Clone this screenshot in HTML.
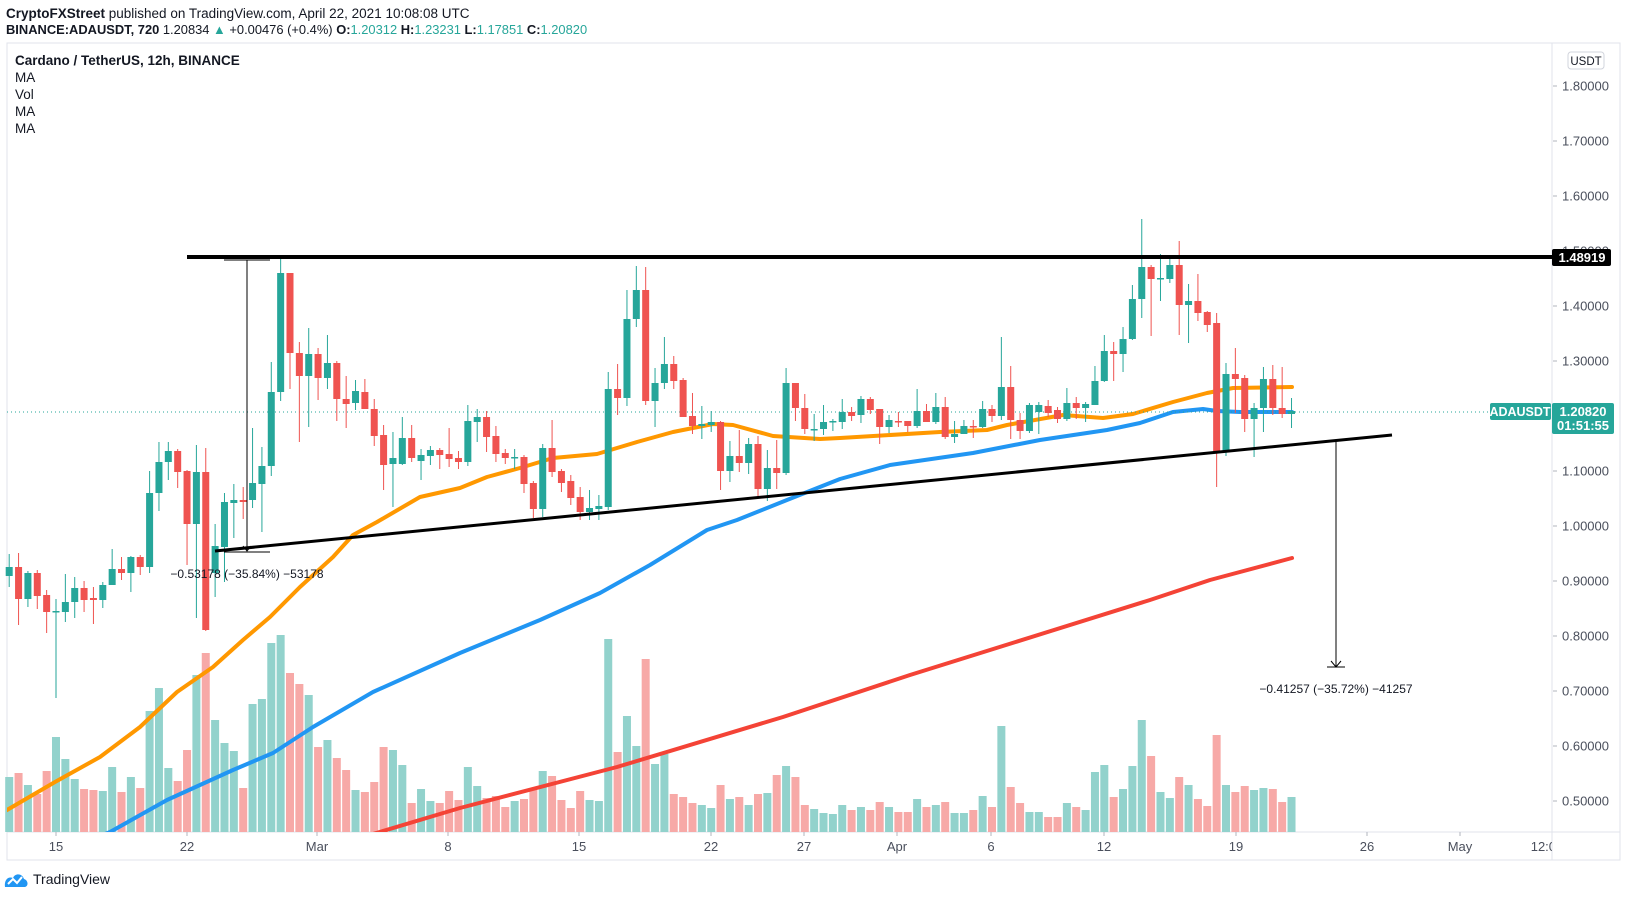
<!DOCTYPE html>
<html><head><meta charset="utf-8"><style>
html,body{margin:0;padding:0;background:#fff;}
body{width:1627px;height:897px;overflow:hidden;font-family:"Liberation Sans",sans-serif;}
svg text{font-family:"Liberation Sans",sans-serif;}
</style></head><body>
<svg id="s" width="1627" height="897" xmlns="http://www.w3.org/2000/svg">
<rect width="1627" height="897" fill="#fff"/>
<text x="6" y="18" font-size="13.5" fill="#131722"><tspan font-weight="bold">CryptoFXStreet</tspan> published on TradingView.com, April 22, 2021 10:08:08 UTC</text>
<text x="6" y="34" font-size="12.9" fill="#131722"><tspan font-weight="bold">BINANCE:ADAUSDT, 720</tspan> 1.20834 <tspan fill="#26a69a">▲</tspan> +0.00476 (+0.4%) <tspan font-weight="bold">O:</tspan><tspan fill="#26a69a">1.20312</tspan> <tspan font-weight="bold">H:</tspan><tspan fill="#26a69a">1.23231</tspan> <tspan font-weight="bold">L:</tspan><tspan fill="#26a69a">1.17851</tspan> <tspan font-weight="bold">C:</tspan><tspan fill="#26a69a">1.20820</tspan></text>
<rect x="7" y="43" width="1613" height="817" fill="none" stroke="#e0e3eb" stroke-width="1"/>
<line x1="1552" y1="43" x2="1552" y2="860" stroke="#e0e3eb"/>
<line x1="7" y1="832" x2="1620" y2="832" stroke="#e0e3eb"/>
<g id="g"></g>
</svg>
<script>
var C=[[576,567,554,587],[567,599,553,625],[599,573,571,607],[573,596,570,609],[595,612,590,633],[612,611,599,698],[612,602,574,622],[602,588,577,618],[588,600,581,612],[598,600,587,624],[600,585,582,608],[585,569,549,585],[569,573,557,580],[573,557,556,592],[557,567,555,575],[567,493,471,573],[493,462,442,511],[462,451,442,480],[451,472,449,488],[471,524,470,565],[524,472,445,618],[472,630,448,631],[573,546,524,597],[547,502,493,582],[503,500,484,538],[500,502,487,519],[500,483,428,508],[484,466,447,532],[466,392,362,476],[392,273,258,401],[273,353,273,389],[353,376,342,442],[376,354,328,427],[354,378,348,400],[378,363,335,389],[363,399,361,421],[399,404,376,428],[403,391,380,410],[392,409,379,409],[409,436,399,446],[435,465,425,490],[464,458,432,507],[464,438,417,465],[438,458,425,462],[461,455,449,480],[456,450,446,465],[450,455,448,469],[454,459,428,467],[458,462,451,469],[462,421,405,466],[422,417,409,442],[417,437,411,452],[436,454,426,462],[453,458,449,464],[457,457,449,469],[457,484,455,493],[483,509,481,518],[509,448,444,517],[448,472,420,477],[471,483,469,492],[481,498,475,505],[497,512,487,520],[512,508,490,520],[509,506,495,520],[507,389,372,510],[389,398,364,415],[398,319,290,406],[319,290,266,327],[290,401,267,405],[401,383,368,427],[383,364,337,389],[364,381,356,389],[380,417,378,417],[416,426,393,434],[426,424,406,439],[425,422,411,432],[422,471,421,490],[471,456,441,482],[456,463,430,472],[463,444,438,474],[444,489,436,498],[489,468,450,501],[468,473,440,489],[473,383,368,475],[383,408,383,421],[408,429,394,434],[429,429,414,441],[429,422,405,435],[422,421,419,431],[422,412,399,429],[412,416,407,421],[415,399,396,423],[399,410,397,414],[409,427,409,444],[427,420,415,433],[421,422,412,427],[421,426,421,432],[426,411,389,428],[411,422,404,422],[422,407,393,424],[407,437,397,439],[437,434,421,443],[434,426,420,433],[426,427,420,438],[427,409,401,428],[409,416,405,422],[416,387,337,420],[387,420,366,439],[420,431,413,439],[431,405,403,433],[412,405,402,434],[406,413,400,417],[410,419,407,423],[419,403,388,421],[403,408,397,419],[408,404,402,422],[405,381,366,405],[381,351,335,382],[351,354,342,381],[354,339,327,372],[339,299,285,340],[299,267,219,318],[267,279,265,336],[278,278,254,301],[279,265,259,283],[265,305,241,335],[305,301,284,343],[301,313,274,321],[312,325,311,332],[323,452,313,487],[452,374,363,456],[374,379,348,413],[378,419,375,432],[419,408,403,457],[408,379,367,432],[379,408,365,415],[408,414,367,418],[414,411,398,428]];
var V=[777,773,785,794,771,737,759,779,789,790,791,767,792,777,788,711,688,768,781,750,675,653,720,743,751,788,704,699,643,635,673,684,695,747,740,758,770,790,792,782,747,750,765,803,789,801,803,791,800,767,786,798,796,807,801,799,790,771,776,800,808,791,800,801,639,752,716,746,659,764,754,794,797,803,805,808,785,799,797,805,794,793,775,766,777,805,809,813,814,805,810,807,810,802,807,812,812,799,807,805,802,813,813,810,796,807,726,787,803,812,812,817,817,803,807,810,772,765,797,789,766,720,756,792,798,777,785,799,806,735,785,792,786,790,788,789,802,797];
var h='';
function X(i){return 9.2+9.36*i;}
for(var i=0;i<C.length;i++){var c=C[i],up=c[1]<=c[0];var x=X(i);
h+='<rect x="'+(x-4)+'" y="'+V[i]+'" width="8" height="'+(832-V[i])+'" fill="'+(up?'#92d2cc':'#f7a9a7')+'"/>';}
h+='<clipPath id="cp"><rect x="7" y="43" width="1545" height="789"/></clipPath><g clip-path="url(#cp)">';
function pl(p,col){h+='<polyline fill="none" stroke="'+col+'" stroke-width="4" stroke-linejoin="round" stroke-linecap="round" points="'+p+'"/>';}
pl("373,834 460,808 617,767 783,717 910,675 1150,600 1210,580 1292,558","#f44336");
pl("105,834 110,832 167,800 233,770 273,753 313,727 373,692 460,653 540,620 600,593 650,565 707,530 737,520 787,500 840,479 890,465 973,453 1040,440 1107,430 1140,423 1173,412 1203,409 1217,411 1240,412 1292,412","#2196f3");
pl("7,810 55,782 100,757 140,727 177,692 213,667 243,640 270,617 300,587 333,557 353,535 377,522 420,497 460,488 487,477 520,468 553,458 597,454 637,442 673,432 713,424 733,425 773,436 820,439 840,438 940,432 987,430 1007,425 1063,415 1103,418 1133,414 1173,402 1207,393 1233,388 1292,387","#ff9800");
h+='</g>';
h+='<line x1="7" y1="412" x2="1490" y2="412" stroke="#26a69a" stroke-width="1" stroke-dasharray="1,3"/>';
for(var i=0;i<C.length;i++){var c=C[i],up=c[1]<=c[0];var x=X(i),col=up?'#26a69a':'#ef5350';
var t=Math.min(c[0],c[1]),b=Math.max(c[0],c[1]);if(b-t<1.5)b=t+1.5;
h+='<line x1="'+x+'" y1="'+c[2]+'" x2="'+x+'" y2="'+c[3]+'" stroke="'+col+'" stroke-width="1"/>';
h+='<rect x="'+(x-3.5)+'" y="'+t+'" width="7" height="'+(b-t)+'" fill="'+col+'"/>';}
h+='<line x1="187" y1="257" x2="1552" y2="257" stroke="#000" stroke-width="4"/>';
h+='<line x1="215" y1="551" x2="1392" y2="435" stroke="#000" stroke-width="3"/>';
h+='<line x1="247" y1="260" x2="247" y2="551" stroke="#000" stroke-width="1"/><line x1="224" y1="260" x2="270" y2="260" stroke="#000"/><line x1="224" y1="552" x2="270" y2="552" stroke="#000"/><polyline points="243,546 247,551 251,546" fill="none" stroke="#000"/>';
h+='<text x="247" y="578" font-size="12" text-anchor="middle" fill="#131722">−0.53178 (−35.84%) −53178</text>';
h+='<line x1="1336" y1="442" x2="1336" y2="667" stroke="#000" stroke-width="1"/><line x1="1327" y1="667" x2="1345" y2="667" stroke="#000"/><polyline points="1331,661 1336,667 1341,661" fill="none" stroke="#000"/>';
h+='<text x="1336" y="693" font-size="12" text-anchor="middle" fill="#131722">−0.41257 (−35.72%) −41257</text>';
var L=[["1.80000",86],["1.70000",141],["1.60000",196],["1.50000",251],["1.40000",306],["1.30000",361],["1.10000",471],["1.00000",526],["0.90000",581],["0.80000",636],["0.70000",691],["0.60000",746],["0.50000",801]];
L.forEach(function(l){h+='<line x1="1553" y1="'+l[1]+'" x2="1557" y2="'+l[1]+'" stroke="#b2b5be"/><text x="1562" y="'+(l[1]+4.5)+'" font-size="13" fill="#4a4f5c">'+l[0]+'</text>';});
h+='<rect x="1568" y="52" width="36" height="17" rx="3" fill="#fff" stroke="#d1d4dc"/><text x="1586" y="65" font-size="11.5" text-anchor="middle" fill="#131722">USDT</text>';
h+='<rect x="1552" y="249" width="59" height="17" rx="2" fill="#000"/><text x="1582" y="262" font-size="13" font-weight="bold" text-anchor="middle" fill="#fff">1.48919</text>';
h+='<rect x="1490" y="403" width="61" height="17" rx="2" fill="#26a69a"/><text x="1520" y="416" font-size="12.5" font-weight="bold" text-anchor="middle" fill="#fff">ADAUSDT</text>';
h+='<rect x="1552" y="403" width="62" height="31" rx="2" fill="#26a69a"/><text x="1583" y="416" font-size="13" font-weight="bold" text-anchor="middle" fill="#fff">1.20820</text><text x="1583" y="430" font-size="13" font-weight="bold" text-anchor="middle" fill="#fff">01:51:55</text>';
var T=[["15",56],["22",187],["Mar",317],["8",448],["15",579],["22",711],["27",804],["Apr",897],["6",991],["12",1104],["19",1236],["26",1367],["May",1460]];
T.forEach(function(t){h+='<line x1="'+t[1]+'" y1="832" x2="'+t[1]+'" y2="836" stroke="#b2b5be"/><text x="'+t[1]+'" y="851" font-size="13" text-anchor="middle" fill="#4a4f5c">'+t[0]+'</text>';});
h+='<clipPath id="cq"><rect x="1500" y="832" width="52" height="28"/></clipPath><text x="1547" y="851" font-size="13" text-anchor="middle" fill="#4a4f5c" clip-path="url(#cq)">12:00</text>';
h+='<text x="15" y="65" font-size="13.5" font-weight="bold" fill="#131722">Cardano / TetherUS, 12h, BINANCE</text>';
[["MA",82],["Vol",99],["MA",116],["MA",133]].forEach(function(m){h+='<text x="15" y="'+m[1]+'" font-size="13.5" fill="#131722">'+m[0]+'</text>';});
h+='<path d="M5,887 C4,880 8,876 13,878 C15,873 22,873 24,879 C28,880 29,886 25,887 Z" fill="#2196f3"/><polyline points="8,884 13,879 17,883 22,877" fill="none" stroke="#fff" stroke-width="2"/>';
h+='<text x="33" y="884" font-size="14" fill="#131722">TradingView</text>';
document.getElementById('g').innerHTML=h;
</script>
</body></html>
